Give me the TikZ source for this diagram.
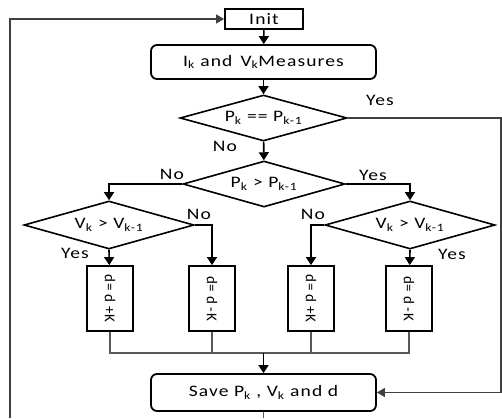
\documentclass[tikz,border=0pt]{standalone}
\usepackage{fontspec}
\setmainfont{Carlito}[LetterSpace=7,FakeStretch=1.22]
\newfontfamily\rotfont{Carlito}[LetterSpace=4]
\usetikzlibrary{shapes.geometric,arrows.meta}
\tikzset{
  txt/.style={font=\fontsize{16}{18}\selectfont},
  sq/.style={draw=black,line width=1.8pt,inner sep=0pt,txt},
  rbox/.style={sq,rounded corners=6pt},
  dia/.style={diamond,draw=black,line width=1.6pt,inner sep=0pt,shape aspect=3.6,txt},
  lbl/.style={txt,inner sep=0pt},
  rot/.style={inner sep=0pt,rotate=-90,font=\rotfont\fontsize{15}{17}\selectfont},
  flow/.style={draw=black,line width=1.6pt,-{Triangle[length=8pt,width=10pt]}},
  thin/.style={draw=black!65,line width=1.3pt},
  thinar/.style={thin,-{Triangle[length=8pt,width=9pt]},draw=black!75},
}
\newcommand{\sub}[1]{\textsubscript{#1}}
\begin{document}
\begin{tikzpicture}[x=1pt,y=-1pt]
\useasboundingbox (0,0) rectangle (502,418);
\node[sq,minimum width=78pt,minimum height=20pt] (init) at (264,19) {Init};
\node[rbox,minimum width=225pt,minimum height=34pt] (meas) at (263.5,62) {I\sub{k} and\, V\sub{k}Measures};
\node[dia,minimum width=167pt,minimum height=46pt] (d1) at (263.5,118) {P\sub{k} == P\sub{k-1}};
\node[dia,minimum width=162pt,minimum height=46pt] (d2) at (264,184) {P\sub{k} > P\sub{k-1}};
\node[dia,minimum width=170pt,minimum height=48pt] (d3) at (109,225) {V\sub{k} > V\sub{k-1}};
\node[dia,minimum width=170pt,minimum height=48pt] (d4) at (410,225) {V\sub{k} > V\sub{k-1}};
\node[sq,minimum width=46pt,minimum height=65pt] (b1) at (110,298.5) {};
\node[sq,minimum width=46pt,minimum height=65pt] (b2) at (212,298.5) {};
\node[sq,minimum width=46pt,minimum height=65pt] (b3) at (311,298.5) {};
\node[sq,minimum width=46pt,minimum height=65pt] (b4) at (409,298.5) {};
\node[rot] at (b1) {d= d +K};
\node[rot] at (b2) {d= d -K};
\node[rot] at (b3) {d= d +K};
\node[rot] at (b4) {d= d -K};
\node[rbox,minimum width=225pt,minimum height=37pt] (save) at (263.5,392.5) {Save P\sub{k} , V\sub{k} and d};
% labels
\node[lbl] at (380,100) {Yes};
\node[lbl] at (225,146) {No};
\node[lbl] at (172,174) {No};
\node[lbl] at (373,175) {Yes};
\node[lbl] at (199,214) {No};
\node[lbl] at (313,214) {No};
\node[lbl] at (75,253) {Yes};
\node[lbl] at (452,254) {Yes};
% coordinates
\coordinate (tl) at (10,418);
\coordinate (tl2) at (10,19);
\coordinate (rb) at (263.5,418);
\coordinate (r1) at (501,118);
\coordinate (r2) at (501,392.5);
\coordinate (m) at (263.5,353);
% flows
\draw[flow] (init) -- (meas);
\draw[flow] (meas) -- (d1);
\draw[flow] (d1) -- (d2);
\draw[flow] (d2.west) -| (d3.north);
\draw[flow] (d2.east) -| (d4.north);
\draw[flow] (d3.south) -- (b1);
\draw[flow] (d3.east) -| (b2.north);
\draw[flow] (d4.west) -| (b3.north);
\draw[flow] (d4.south) -- (b4);
\draw[thin] (b1.south) |- (m) (b2.south) |- (m) (b3.south) |- (m) (b4.south) |- (m);
\draw[flow] (m) -- (save);
\draw[thin] (save) -- (rb);
\draw[thinar] (d1.east) -- (r1) -- (r2) -- (save.east);
\draw[thinar] (tl) -- (tl2) -- (init.west);
\end{tikzpicture}
\end{document}
